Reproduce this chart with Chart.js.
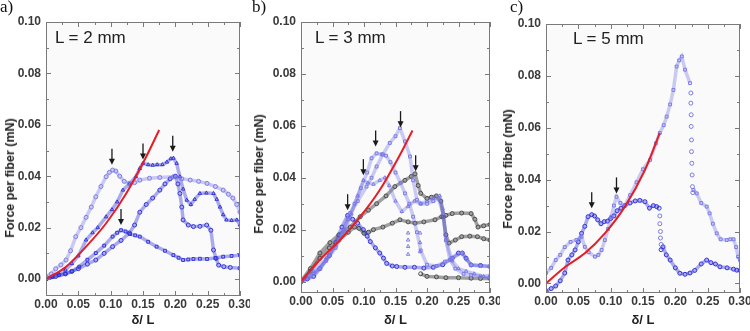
<!DOCTYPE html>
<html>
<head>
<meta charset="utf-8">
<script src="https://cdn.jsdelivr.net/npm/chart.js@4.4.1/dist/chart.umd.min.js"></script>
<style>
  body { margin: 0; background: #fff; }
  #wrap { position: relative; width: 750px; height: 331px; overflow: hidden; }
  .panel { position: absolute; top: 0; width: 250px; height: 331px; }
  .panel canvas { position: absolute; left: 0; top: 0; }
  .tag { position: absolute; font-family: "Liberation Serif", "Times New Roman", serif; font-size: 17px; color: #111; }
  .len { position: absolute; font-family: "Liberation Sans", Arial, sans-serif; font-size: 17px; color: #222; white-space: nowrap; }
  .ytitle { position: absolute; font-family: "Liberation Sans", Arial, sans-serif; font-weight: bold; font-size: 12.5px; color: #222;
            white-space: nowrap; transform: translate(-50%, -50%) rotate(-90deg); }
</style>
</head>
<body>
<div id="wrap">
  <div class="panel" style="left:0">
    <canvas id="chartA" width="250" height="331"></canvas>
    <div class="tag" style="left:0;top:-3px">a)</div>
    <div class="len" style="left:55px;top:28px">L = 2 mm</div>
    <div class="ytitle" style="left:10px;top:178px">Force per fiber (mN)</div>
  </div>
  <div class="panel" style="left:250px">
    <canvas id="chartB" width="250" height="331"></canvas>
    <div class="tag" style="left:2px;top:-3px">b)</div>
    <div class="len" style="left:65px;top:28px">L = 3 mm</div>
    <div class="ytitle" style="left:9px;top:174px">Force per fiber (mN)</div>
  </div>
  <div class="panel" style="left:500px">
    <canvas id="chartC" width="250" height="331"></canvas>
    <div class="tag" style="left:10px;top:-3px">c)</div>
    <div class="len" style="left:73px;top:29px">L = 5 mm</div>
    <div class="ytitle" style="left:8px;top:169px">Force per fiber (mN)</div>
  </div>
</div>
<script>
// axis ticks
const xTicks = [0, 0.05, 0.10, 0.15, 0.20, 0.25, 0.30];
const yTicks = [0, 0.02, 0.04, 0.06, 0.08, 0.10];

// ---- panel a, L = 2 mm ----
const aRedX = [0, 0.031, 0.062, 0.093, 0.124, 0.155, 0.175];
const aRedY = [0, 0.0048, 0.0126, 0.0217, 0.0333, 0.0476, 0.058];
const a1X = [0, 0.008, 0.015, 0.023, 0.031, 0.038, 0.046, 0.054, 0.062, 0.07, 0.077, 0.085, 0.093, 0.098, 0.103, 0.108, 0.114, 0.121, 0.129, 0.137, 0.145, 0.16, 0.176, 0.197, 0.21, 0.223, 0.236, 0.249, 0.262, 0.274, 0.282, 0.289, 0.295, 0.30];
const a1Y = [0.001, 0.002, 0.004, 0.0055, 0.0074, 0.011, 0.0165, 0.020, 0.024, 0.028, 0.032, 0.036, 0.0398, 0.0415, 0.0424, 0.042, 0.040, 0.038, 0.0372, 0.0375, 0.0385, 0.0392, 0.0395, 0.0398, 0.039, 0.0385, 0.038, 0.0372, 0.036, 0.0346, 0.033, 0.0315, 0.029, 0.026];
const a2X = [0, 0.01, 0.02, 0.03, 0.04, 0.05, 0.062, 0.072, 0.08, 0.093, 0.102, 0.11, 0.119, 0.129, 0.139, 0.145, 0.150, 0.158, 0.165, 0.172, 0.18, 0.187, 0.193, 0.197, 0.202, 0.207, 0.212, 0.2176, 0.224, 0.23, 0.238, 0.248, 0.259, 0.264, 0.269, 0.274, 0.279, 0.287, 0.295, 0.30];
const a2Y = [0, 0.001, 0.002, 0.0035, 0.006, 0.009, 0.0152, 0.018, 0.020, 0.0242, 0.027, 0.030, 0.0346, 0.037, 0.0398, 0.043, 0.045, 0.0445, 0.0443, 0.0445, 0.0445, 0.0455, 0.0468, 0.047, 0.045, 0.0398, 0.035, 0.0307, 0.029, 0.031, 0.0333, 0.0335, 0.0333, 0.031, 0.028, 0.025, 0.023, 0.0228, 0.023, 0.021];
const a3X = [0, 0.01, 0.02, 0.03, 0.04, 0.0515, 0.064, 0.077, 0.09, 0.103, 0.11, 0.116, 0.123, 0.13, 0.138, 0.145, 0.158, 0.171, 0.184, 0.197, 0.205, 0.212, 0.22, 0.228, 0.238, 0.249, 0.262, 0.274, 0.287, 0.30];
const a3Y = [0, 0.0008, 0.0015, 0.002, 0.003, 0.0048, 0.0075, 0.0101, 0.013, 0.0165, 0.018, 0.019, 0.0185, 0.0175, 0.017, 0.0165, 0.0145, 0.0126, 0.011, 0.0093, 0.0083, 0.0074, 0.0076, 0.0078, 0.0079, 0.0078, 0.0082, 0.0087, 0.009, 0.0093];
const a4X = [0, 0.015, 0.03, 0.04, 0.05, 0.064, 0.077, 0.09, 0.103, 0.116, 0.129, 0.137, 0.145, 0.155, 0.165, 0.176, 0.184, 0.192, 0.2, 0.204, 0.207, 0.21, 0.212, 0.22, 0.228, 0.238, 0.2485, 0.255, 0.259, 0.263, 0.267, 0.275, 0.285, 0.30];
const a4Y = [0, 0.001, 0.002, 0.003, 0.004, 0.0058, 0.0074, 0.01, 0.0126, 0.015, 0.0179, 0.021, 0.026, 0.029, 0.0315, 0.0346, 0.037, 0.039, 0.040, 0.037, 0.0333, 0.028, 0.023, 0.021, 0.0204, 0.0205, 0.021, 0.019, 0.0113, 0.008, 0.0054, 0.0048, 0.0045, 0.0042];
const aArrowX = [0.102, 0.15, 0.196, 0.116];
const aArrowY = [0.0445, 0.0465, 0.0495, 0.021];

// ---- panel b, L = 3 mm ----
const bRedX = [0, 0.03, 0.062, 0.094, 0.125, 0.157, 0.177];
const bRedY = [0, 0.0084, 0.016, 0.025, 0.0353, 0.0488, 0.0582];
const b1X = [0, 0.015, 0.03, 0.045, 0.06, 0.078, 0.09, 0.104, 0.112, 0.12, 0.13, 0.141, 0.15, 0.157, 0.165, 0.173, 0.178, 0.184, 0.19, 0.2, 0.21, 0.218, 0.2254, 0.23, 0.2365, 0.245, 0.258, 0.27, 0.285, 0.30];
const b1Y = [0, 0.002, 0.005, 0.01, 0.016, 0.0264, 0.031, 0.0366, 0.040, 0.0443, 0.049, 0.0534, 0.056, 0.0591, 0.054, 0.0482, 0.039, 0.0315, 0.030, 0.030, 0.031, 0.032, 0.0264, 0.016, 0.0084, 0.005, 0.003, 0.0025, 0.002, 0.0015];
const b2X = [0, 0.02, 0.04, 0.055, 0.065, 0.075, 0.085, 0.095, 0.105, 0.112, 0.12, 0.128, 0.135, 0.142, 0.15, 0.158, 0.165, 0.172, 0.178, 0.184, 0.19, 0.2, 0.215, 0.2286, 0.24, 0.255, 0.263, 0.27, 0.285, 0.30];
const b2Y = [0, 0.003, 0.008, 0.013, 0.018, 0.024, 0.03, 0.036, 0.042, 0.0475, 0.0494, 0.049, 0.0485, 0.046, 0.042, 0.038, 0.034, 0.03, 0.025, 0.019, 0.012, 0.0065, 0.006, 0.0077, 0.009, 0.011, 0.0085, 0.0064, 0.006, 0.0058];
const b3X = [0, 0.02, 0.04, 0.055, 0.07, 0.08, 0.09, 0.099, 0.106, 0.115, 0.125, 0.133, 0.14, 0.15, 0.16, 0.17, 0.18, 0.19, 0.2, 0.21, 0.22, 0.225, 0.23, 0.24, 0.25, 0.262, 0.275, 0.29, 0.30];
const b3Y = [0, 0.004, 0.009, 0.014, 0.02, 0.026, 0.033, 0.039, 0.038, 0.0375, 0.039, 0.040, 0.037, 0.031, 0.027, 0.029, 0.031, 0.030, 0.031, 0.032, 0.033, 0.028, 0.016, 0.008, 0.005, 0.004, 0.003, 0.002, 0.0025];
const b4X = [0, 0.01, 0.02, 0.03, 0.045, 0.055, 0.065, 0.074, 0.082, 0.09, 0.099, 0.105, 0.11, 0.118, 0.125, 0.131, 0.136, 0.145, 0.152, 0.165, 0.18, 0.195, 0.21, 0.225, 0.24, 0.25, 0.256, 0.262, 0.27, 0.285, 0.30];
const b4Y = [0, 0.001, 0.002, 0.005, 0.01, 0.015, 0.021, 0.0255, 0.024, 0.0225, 0.020, 0.0175, 0.0154, 0.013, 0.011, 0.009, 0.007, 0.006, 0.0058, 0.0055, 0.0055, 0.0052, 0.0055, 0.0065, 0.009, 0.011, 0.011, 0.009, 0.0064, 0.0062, 0.0058];
const bDropX = [0.170, 0.170, 0.170, 0.170, 0.189, 0.189, 0.189];
const bDropY = [0.0187, 0.016, 0.0135, 0.0105, 0.0187, 0.015, 0.0115];
const k1X = [0, 0.015, 0.03, 0.046, 0.06, 0.078, 0.094, 0.107, 0.12, 0.135, 0.149, 0.165, 0.175, 0.181, 0.186, 0.19, 0.2, 0.207, 0.215, 0.222, 0.226, 0.23, 0.235, 0.245, 0.255, 0.268, 0.28, 0.29, 0.30];
const k1Y = [0, 0.005, 0.011, 0.015, 0.018, 0.021, 0.025, 0.0275, 0.030, 0.033, 0.0366, 0.039, 0.0405, 0.0415, 0.037, 0.034, 0.032, 0.0325, 0.033, 0.031, 0.025, 0.018, 0.0148, 0.016, 0.0173, 0.0175, 0.0173, 0.0165, 0.016];
const k2X = [0, 0.015, 0.03, 0.045, 0.06, 0.075, 0.085, 0.092, 0.1, 0.107, 0.115, 0.13, 0.145, 0.157, 0.17, 0.181, 0.195, 0.2127, 0.2233, 0.23, 0.24, 0.255, 0.27, 0.276, 0.281, 0.29, 0.30];
const k2Y = [0, 0.004, 0.009, 0.013, 0.016, 0.019, 0.021, 0.0205, 0.0186, 0.019, 0.020, 0.021, 0.0225, 0.0238, 0.023, 0.0225, 0.023, 0.0238, 0.025, 0.0255, 0.0262, 0.0264, 0.0262, 0.024, 0.021, 0.0215, 0.022];
const k3X = [0.19, 0.2, 0.215, 0.23, 0.25, 0.27, 0.285, 0.30];
const k3Y = [0.003, 0.002, 0.0018, 0.0015, 0.0015, 0.0013, 0.0012, 0.0012];
const bArrowX = [0.074, 0.099, 0.1185, 0.158, 0.182];
const bArrowY = [0.0275, 0.041, 0.052, 0.0595, 0.0425];

// ---- panel c, L = 5 mm ----
const cRedX = [0, 0.03, 0.06, 0.091, 0.122, 0.153, 0.176];
const cRedY = [0, 0.0064, 0.0116, 0.0193, 0.0296, 0.0437, 0.058];
const c1X = [0, 0.008, 0.015, 0.022, 0.029, 0.038, 0.047, 0.055, 0.06, 0.066, 0.0758, 0.081, 0.086, 0.091, 0.096, 0.101, 0.105, 0.109, 0.115, 0.122, 0.13, 0.14, 0.15, 0.161, 0.17, 0.176, 0.182, 0.1866, 0.192, 0.197, 0.202, 0.206, 0.21, 0.215, 0.2227];
const c1Y = [0.004, 0.006, 0.009, 0.011, 0.014, 0.016, 0.0167, 0.018, 0.0141, 0.012, 0.0103, 0.011, 0.0129, 0.0167, 0.021, 0.0257, 0.030, 0.0334, 0.031, 0.030, 0.034, 0.039, 0.044, 0.0476, 0.054, 0.058, 0.061, 0.0643, 0.069, 0.0746, 0.0836, 0.086, 0.0875, 0.0824, 0.0772];
const c1DropX = [0.224, 0.224, 0.2245, 0.2245, 0.225, 0.225, 0.2255, 0.226, 0.2265, 0.227];
const c1DropY = [0.0734, 0.0695, 0.065, 0.0605, 0.0553, 0.0508, 0.0463, 0.0418, 0.0373, 0.035];
const c1TailX = [0.228, 0.233, 0.24, 0.2485, 0.253, 0.258, 0.264, 0.27, 0.2794, 0.285, 0.29, 0.294, 0.297, 0.30];
const c1TailY = [0.036, 0.0347, 0.031, 0.0296, 0.027, 0.023, 0.0193, 0.017, 0.0167, 0.017, 0.017, 0.014, 0.0103, 0.009];
const c2X = [0, 0.008, 0.015, 0.022, 0.029, 0.034, 0.04, 0.045, 0.05, 0.055, 0.06, 0.065, 0.0707, 0.075, 0.08, 0.085, 0.09, 0.095, 0.1, 0.105, 0.11, 0.116, 0.122, 0.13, 0.138, 0.145, 0.153, 0.16, 0.166, 0.171, 0.175];
const c2Y = [-0.003, -0.002, -0.001, 0.001, 0.004, 0.009, 0.011, 0.0129, 0.016, 0.0193, 0.022, 0.0257, 0.0265, 0.026, 0.0245, 0.023, 0.0238, 0.024, 0.025, 0.026, 0.028, 0.029, 0.030, 0.031, 0.0318, 0.032, 0.0315, 0.029, 0.03, 0.0296, 0.029];
const c2DropX = [0.176, 0.176, 0.177, 0.177, 0.178];
const c2DropY = [0.026, 0.023, 0.02, 0.0175, 0.015];
const c2TailX = [0.178, 0.181, 0.186, 0.192, 0.2, 0.207, 0.215, 0.2227, 0.23, 0.24, 0.2485, 0.255, 0.262, 0.269, 0.28, 0.29, 0.295, 0.30];
const c2TailY = [0.013, 0.0141, 0.011, 0.009, 0.006, 0.0039, 0.0035, 0.004, 0.005, 0.0075, 0.009, 0.008, 0.0075, 0.0064, 0.006, 0.0055, 0.0051, 0.005];
const cArrowX = [0.0707, 0.109];
const cArrowY = [0.029, 0.0347];

const FONT = '"Liberation Sans", Arial, sans-serif';

function pts(xs, ys) {
  return xs.map((x, i) => ({ x: x, y: ys[i] }));
}

function redFit(xs, ys) {
  return { data: pts(xs, ys), showLine: true, borderColor: '#e41e26', borderWidth: 2,
           pointRadius: 0, cubicInterpolationMode: 'monotone' };
}

function trail(xs, ys, shape, color, band) {
  return { data: pts(xs, ys), showLine: !!band, borderColor: band || 'transparent', borderWidth: 3.5,
           pointStyle: shape, pointRadius: 2, pointBorderColor: color,
           pointBackgroundColor: 'rgba(0,0,0,0)', pointBorderWidth: 1 };
}

const BLUE = '#3434d8', LBLUE = '#7c7ce6', GREY = '#4a4a4a';
const BAND = 'rgba(50,50,215,0.4)', LBAND = 'rgba(110,110,230,0.35)', KBAND = 'rgba(70,70,70,0.5)';

// background, frame, inward ticks and arrows
const framePlugin = {
  id: 'frame',
  beforeDraw(chart) {
    const a = chart.chartArea, ctx = chart.ctx;
    ctx.save();
    ctx.fillStyle = '#fafafa';
    ctx.fillRect(a.left, a.top, a.right - a.left, a.bottom - a.top);
    ctx.restore();
  },
  afterDraw(chart, args, opts) {
    const a = chart.chartArea, ctx = chart.ctx;
    const xs = chart.scales.x, ys = chart.scales.y;
    ctx.save();
    ctx.strokeStyle = '#7a7a7a';
    ctx.lineWidth = 1;
    ctx.strokeRect(a.left + 0.5, a.top + 0.5, a.right - a.left - 1, a.bottom - a.top - 1);
    const xt = xs.ticks.map(t => t.value), yt = ys.ticks.map(t => t.value);
    const mark = (vals, len, horiz) => {
      vals.forEach(v => {
        if (horiz) {
          const p = Math.round(xs.getPixelForValue(v)) + 0.5;
          ctx.moveTo(p, a.bottom); ctx.lineTo(p, a.bottom - len);
          ctx.moveTo(p, a.top); ctx.lineTo(p, a.top + len);
        } else {
          const p = Math.round(ys.getPixelForValue(v)) + 0.5;
          ctx.moveTo(a.left, p); ctx.lineTo(a.left + len, p);
          ctx.moveTo(a.right, p); ctx.lineTo(a.right - len, p);
        }
      });
    };
    const mids = t => t.slice(1).map((v, i) => (v + t[i]) / 2);
    ctx.beginPath();
    mark(xt, 5, true); mark(mids(xt), 3, true);
    mark(yt, 5, false); mark(mids(yt), 3, false);
    ctx.stroke();

    // arrows marking the peaks
    ctx.strokeStyle = '#1a1a1a';
    ctx.fillStyle = '#1a1a1a';
    ctx.lineWidth = 1.3;
    (opts.xs || []).forEach((v, i) => {
      const px = xs.getPixelForValue(v), py = ys.getPixelForValue(opts.ys[i]);
      ctx.beginPath();
      ctx.moveTo(px, py - 16); ctx.lineTo(px, py - 5);
      ctx.stroke();
      ctx.beginPath();
      ctx.moveTo(px - 3, py - 6); ctx.lineTo(px + 3, py - 6); ctx.lineTo(px, py);
      ctx.closePath(); ctx.fill();
    });
    ctx.restore();
  }
};

function makePanel(id, datasets, arrowsX, arrowsY, box) {
  return new Chart(document.getElementById(id), {
    type: 'scatter',
    data: { datasets: datasets },
    plugins: [framePlugin],
    options: {
      responsive: false,
      animation: false,
      layout: { padding: { top: box.top, right: 250 - box.right, left: 0, bottom: 0 } },
      plugins: {
        legend: { display: false },
        tooltip: { enabled: false },
        frame: { xs: arrowsX, ys: arrowsY }
      },
      scales: {
        x: {
          type: 'linear', min: 0, max: 0.3,
          afterBuildTicks: s => { s.ticks = xTicks.map(v => ({ value: v })); },
          afterFit: s => { s.height = 331 - box.bottom; s.paddingLeft = 0; s.paddingRight = 0; },
          grid: { display: false, drawTicks: false },
          border: { display: false },
          ticks: { callback: v => v.toFixed(2), padding: 1, maxRotation: 0, autoSkip: false,
                   color: '#3a3a3a', font: { family: FONT, size: 12, weight: 'bold' } },
          title: { display: true, text: 'δ/ L', color: '#222', padding: { top: 0, bottom: 3 },
                   font: { family: FONT, size: 13, weight: 'bold' } }
        },
        y: {
          type: 'linear', min: box.yMin, max: 0.1,
          afterBuildTicks: s => { s.ticks = yTicks.map(v => ({ value: v })); },
          afterFit: s => { s.width = box.left; s.paddingTop = 0; s.paddingBottom = 0; },
          grid: { display: false, drawTicks: false },
          border: { display: false },
          ticks: { callback: v => v.toFixed(2), padding: 5, autoSkip: false,
                   color: '#3a3a3a', font: { family: FONT, size: 12, weight: 'bold' } }
        }
      }
    }
  });
}

makePanel('chartA', [
  redFit(aRedX, aRedY),
  trail(a1X, a1Y, 'circle', LBLUE, LBAND),
  trail(a2X, a2Y, 'triangle', BLUE, BAND),
  trail(a3X, a3Y, 'rect', BLUE, BAND),
  trail(a4X, a4Y, 'circle', BLUE, BAND)
], aArrowX, aArrowY, { left: 46, right: 240, top: 22, bottom: 296, yMin: -0.0066 });

makePanel('chartB', [
  redFit(bRedX, bRedY),
  trail(b1X, b1Y, 'rect', LBLUE, LBAND),
  trail(b2X, b2Y, 'rect', LBLUE, LBAND),
  trail(b3X, b3Y, 'triangle', LBLUE, LBAND),
  trail(b4X, b4Y, 'circle', BLUE, BAND),
  trail(bDropX, bDropY, 'triangle', LBLUE, null),
  trail(k1X, k1Y, 'circle', GREY, KBAND),
  trail(k2X, k2Y, 'circle', GREY, KBAND),
  trail(k3X, k3Y, 'circle', GREY, KBAND)
], bArrowX, bArrowY, { left: 51, right: 240, top: 22, bottom: 293, yMin: -0.0044 });

makePanel('chartC', [
  redFit(cRedX, cRedY),
  trail(c1X, c1Y, 'rect', LBLUE, LBAND),
  trail(c1DropX, c1DropY, 'circle', LBLUE, null),
  trail(c1TailX, c1TailY, 'rect', LBLUE, LBAND),
  trail(c2X, c2Y, 'circle', BLUE, BAND),
  trail(c2DropX, c2DropY, 'circle', LBLUE, null),
  trail(c2TailX, c2TailY, 'circle', BLUE, BAND)
], cArrowX, cArrowY, { left: 46, right: 240, top: 24, bottom: 293, yMin: -0.0037 });
</script>
</body>
</html>
